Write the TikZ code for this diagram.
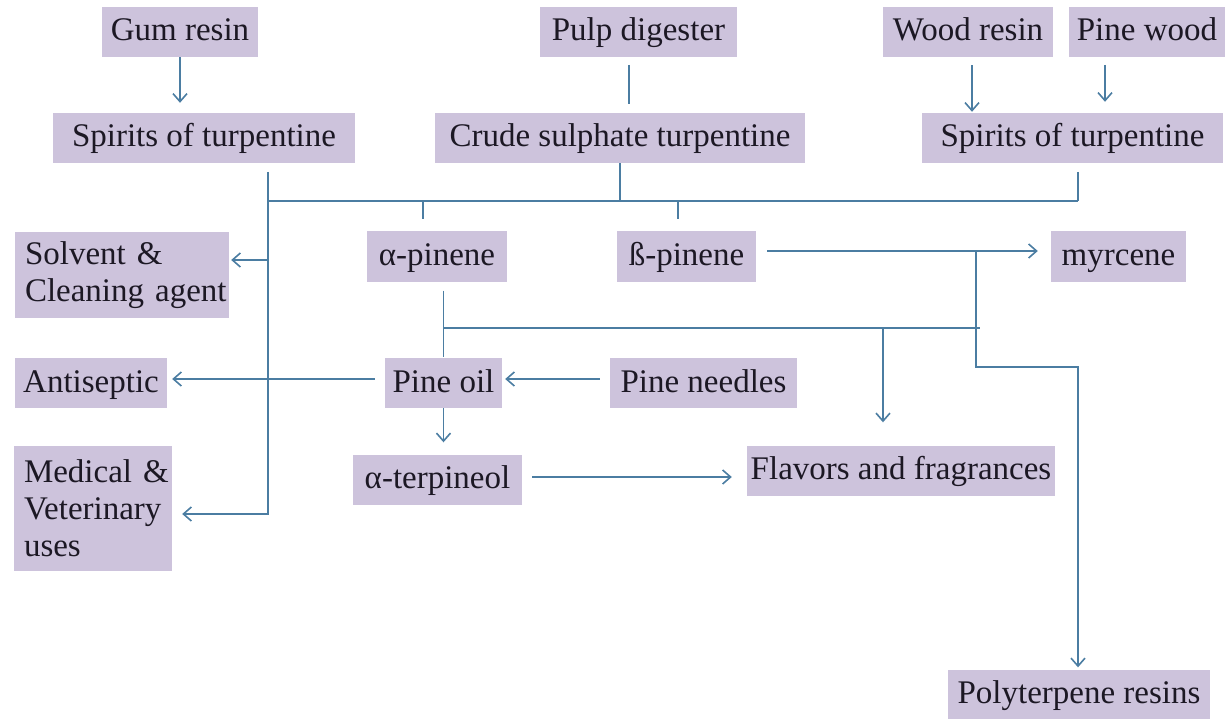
\documentclass[tikz,border=0pt]{standalone}
\usepackage{fontspec}
\setmainfont{Liberation Serif}
\usetikzlibrary{arrows.meta,calc}

\definecolor{boxfill}{RGB}{205,195,220}
\definecolor{linkblue}{RGB}{75,125,162}
\definecolor{ink}{RGB}{28,24,36}

% one unbroken, indented line of a multi-line box
\newcommand\boxline[1]{\hspace*{10pt}\mbox{#1}}

\tikzset{
  item/.style={fill=boxfill, text=ink, inner sep=0pt, minimum height=50pt,
    font=\fontsize{33}{37}\selectfont, text height=24pt, text depth=6pt},
  multi/.style={fill=boxfill, text=ink, inner sep=0pt, align=left,
    font=\fontsize{33}{37}\selectfont},
  link/.style={draw=linkblue, line width=1.6pt},
  arr/.style={link, -{Straight Barb[length=8pt,width=14pt,line width=1.6pt]}}
}

\begin{document}
\begin{tikzpicture}[x=1pt,y=-1pt]
\useasboundingbox (0,0) rectangle (1225,719);
\fill[white] (0,0) rectangle (1225,719);

% sources
\node[item, minimum width=156pt] (gum)   at (180,32)    {Gum resin};
\node[item, minimum width=197pt] (pulp)  at (638.5,32)  {Pulp digester};
\node[item, minimum width=170pt] (wood)  at (968,32)    {Wood resin};
\node[item, minimum width=156pt] (pinew) at (1147,32)   {Pine wood};

% turpentines
\node[item, minimum width=302pt] (spiritsL) at (204,138)    {Spirits of turpentine};
\node[item, minimum width=370pt] (crude)    at (620,138)    {Crude sulphate turpentine};
\node[item, minimum width=301pt] (spiritsR) at (1072.5,138) {Spirits of turpentine};

% products
\node[multi, text width=214pt, minimum height=86pt] (solvent) at (122,275)
  {\boxline{Solvent \&}\\\boxline{Cleaning agent}};
\node[item, minimum width=140pt] (alpha)   at (437,256.5)    {α-pinene};
\node[item, minimum width=139pt] (beta)    at (686.5,256.5)  {ß-pinene};
\node[item, minimum width=135pt] (myrcene) at (1118.5,256.5) {myrcene};

\node[item, minimum width=152pt] (antiseptic) at (91,383)    {Antiseptic};
\node[item, minimum width=117pt] (pineoil)    at (443.5,383) {Pine oil};
\node[item, minimum width=187pt] (needles)    at (703.5,383) {Pine needles};

\node[multi, text width=158pt, minimum height=125pt] (medical) at (93,508.5)
  {\boxline{Medical \&}\\\boxline{Veterinary}\\\boxline{uses}};
\node[item, minimum width=169pt] (terp)    at (437.5,479.5) {α-terpineol};
\node[item, minimum width=308pt] (flavors) at (901,470.5)   {Flavors and fragrances};
\node[item, minimum width=262pt] (poly)    at (1079,694.5)  {Polyterpene resins};

% junction points
\coordinate (pd)  at (629,57);
\coordinate (pwa) at (1105,57);
\coordinate (sLd) at (268,172);
\coordinate (sRd) at (1078,172);
\coordinate (bL)  at (268,201);
\coordinate (bR)  at (1078,201);
\coordinate (aS)  at (423,201);
\coordinate (bS)  at (678,201);
\coordinate (sT)  at (268,260);
\coordinate (mT)  at (268,514);
\coordinate (j1)  at (976,251);
\coordinate (j2)  at (976,367);
\coordinate (j3)  at (1078,367);
\coordinate (h1)  at (443,328);
\coordinate (h2)  at (980,328);
\coordinate (fA)  at (883,328);

% feeds into the turpentines
\draw[arr, shorten >=10pt] (gum.south) -- (gum.south |- spiritsL.north);
\draw[link, shorten <=8pt, shorten >=9pt] (pd) -- (pd |- crude.north);
\draw[arr, shorten <=8pt, shorten >=1pt] ([xshift=4pt]wood.south) -- ([xshift=4pt]wood.south |- spiritsR.north);
\draw[arr, shorten <=8pt, shorten >=11pt] (pwa) -- (pwa |- spiritsR.north);

% collecting line
\draw[link] (bL) -- (bR);
\draw[link] (sRd) -- (bR);
\draw[link] (crude.south) -- (crude.south |- bL);
\draw[link, shorten >=12pt] (aS) -- (aS |- alpha.north);
\draw[link, shorten >=12pt] (bS) -- (bS |- beta.north);

% turpentine uses
\draw[arr, shorten >=10pt] (sLd) -- (mT) -- (mT -| medical.east);
\draw[arr, shorten >=2pt] (sT) -- (sT -| solvent.east);

% pinene routes
\draw[arr, shorten <=11pt, shorten >=13pt] ([yshift=5.5pt]beta.east) -- ([yshift=5.5pt]beta.east -| myrcene.west);
\draw[arr, shorten >=2pt] (j1) -- (j2) -- (j3) -- (j3 |- poly.north);
\draw[link, shorten <=9pt, shorten >=1pt] (pineoil.north |- alpha.south) -- (pineoil.north);
\draw[link] (h1) -- (h2);
\draw[arr, shorten >=23pt] (fA) -- (fA |- flavors.north);

% pine oil
\draw[arr, shorten <=10pt, shorten >=3pt] ([yshift=4pt]needles.west) -- ([yshift=4pt]pineoil.east);
\draw[arr, shorten <=10pt, shorten >=5pt] ([yshift=4pt]pineoil.west) -- ([yshift=4pt]antiseptic.east);
\draw[arr, shorten >=12pt] (pineoil.south) -- (pineoil.south |- terp.north);
\draw[arr, shorten <=10pt, shorten >=15pt] ([yshift=2.5pt]terp.east) -- ([yshift=2.5pt]terp.east -| flavors.west);
\end{tikzpicture}
\end{document}
